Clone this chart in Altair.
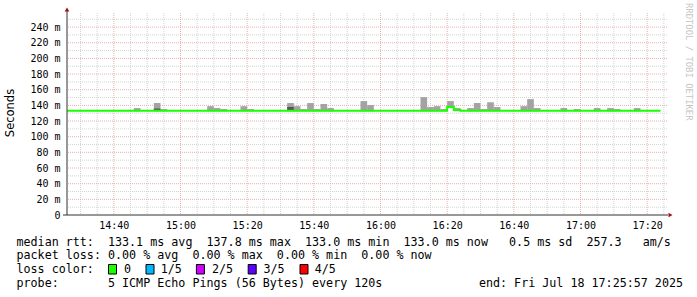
import altair as alt
import pandas as pd

# ---------------- data ----------------
# smoke (ping spread) bars: 2-minute RRD steps starting at these times
smoke_start = ["14:46", "14:52", "14:54", "15:08", "15:10", "15:12", "15:18", "15:20",
               "15:32", "15:34", "15:36", "15:38", "15:40", "15:42", "15:44", "15:54", "15:56",
               "16:12", "16:14", "16:16", "16:18", "16:20", "16:22", "16:26", "16:28", "16:30",
               "16:32", "16:34", "16:42", "16:44", "16:46", "16:54", "16:58", "17:04", "17:08",
               "17:10", "17:16"]
smoke_high_ms = [136.6, 143.0, 135.3, 139.0, 136.6, 135.3, 139.0, 135.3,
                 143.0, 139.0, 135.3, 143.0, 135.3, 141.7, 136.6, 145.5, 140.4,
                 150.6, 137.9, 139.0, 135.3, 145.5, 136.6, 136.6, 143.0, 135.3,
                 144.0, 137.9, 139.0, 148.0, 136.6, 136.6, 135.3, 136.6, 136.6,
                 135.3, 136.6]
smoke_low_ms = [132.5] * 21 + [136.5] + [132.5] * 15

# darker (inner) smoke
dark_start = ["14:52", "15:32"]
dark_low_ms = [132.8, 132.8]
dark_high_ms = [136.0, 138.0]

# median rtt (step line, loss 0)
median_time = ["14:26", "16:20", "16:22", "16:24", "17:24"]
median_ms = [133.0, 137.9, 134.0, 133.0, 133.0]

x_tick_min = [40, 60, 80, 100, 120, 140, 160, 180, 200]   # minutes after 14:00
y_ticks = [0, 20, 40, 60, 80, 100, 120, 140, 160, 180, 200, 220, 240]

legend_line1 = "median rtt:  133.1 ms avg  137.8 ms max  133.0 ms min  133.0 ms now   0.5 ms sd  257.3   am/s"
legend_line2 = "packet loss: 0.00 % avg  0.00 % max  0.00 % min  0.00 % now"
legend_line3 = "loss color:"
legend_line4 = "probe:       5 ICMP Echo Pings (56 Bytes) every 120s"
legend_end = "end: Fri Jul 18 17:25:57 2025"
loss_labels = ["0", "1/5", "2/5", "3/5", "4/5"]
loss_colors = ["#1aff00", "#00b8ff", "#d000ff", "#5a00ff", "#ff0000"]
side_text = "RRDTOOL / TOBI OETIKER"


def tmin(s):
    h, m = s.split(":")
    return (int(h) - 14) * 60 + int(m)


smoke = pd.DataFrame({"start": [tmin(t) for t in smoke_start],
                      "low": smoke_low_ms, "high": smoke_high_ms})
smoke["end"] = smoke["start"] + 2
dark = pd.DataFrame({"start": [tmin(t) for t in dark_start],
                     "low": dark_low_ms, "high": dark_high_ms})
dark["end"] = dark["start"] + 2
median = pd.DataFrame({"t": [tmin(t) for t in median_time], "ms": median_ms})

W, H = 600, 202
MONO = "DejaVu Sans Mono"

xs = alt.Scale(domain=[25.95, 205.95], nice=False, zero=False)
ys = alt.Scale(domain=[0, 258], nice=False, zero=False)

xaxis = alt.Axis(values=x_tick_min, title=None, grid=False, domain=False, ticks=False,
                 labelExpr="(floor(datum.value/60)+14) + ':' + (datum.value%60 == 0 ? '00' : '' + datum.value%60)",
                 labelFont=MONO, labelFontSize=10, labelColor="#000000", labelPadding=5,
                 labelFlush=False)
yaxis = alt.Axis(values=y_ticks, title=None, grid=False, domain=False, ticks=False,
                 labelExpr="datum.value == 0 ? '0' : datum.value + ' m'",
                 labelFont=MONO, labelFontSize=10, labelColor="#000000", labelPadding=7)

X = lambda f: alt.X(f, type="quantitative", scale=xs, axis=xaxis)
Y = lambda f: alt.Y(f, type="quantitative", scale=ys, axis=yaxis)

# grid
vminor = pd.DataFrame({"v": [m for m in range(30, 206, 5) if m % 20 != 0]})
vmajor = pd.DataFrame({"v": x_tick_min})
hminor = pd.DataFrame({"v": list(range(10, 251, 20))})
hmajor = pd.DataFrame({"v": y_ticks[1:]})

MINOR = "#d4d4d4"
MAJOR = "#e8b0b0"
g1 = alt.Chart(vminor).mark_rule(color=MINOR, strokeDash=[1, 1], strokeWidth=1).encode(x=X("v"))
g2 = alt.Chart(hminor).mark_rule(color=MINOR, strokeDash=[1, 1], strokeWidth=1).encode(y=Y("v"))
g3 = alt.Chart(vmajor).mark_rule(color=MAJOR, strokeDash=[1, 1], strokeWidth=1).encode(x=X("v"))
g4 = alt.Chart(hmajor).mark_rule(color=MAJOR, strokeDash=[1, 1], strokeWidth=1).encode(y=Y("v"))

bars = alt.Chart(smoke).mark_rect(color="#a3a3a3").encode(
    x=X("start"), x2="end", y=Y("low"), y2="high")
dbars = alt.Chart(dark).mark_rect(color="#555555").encode(
    x=X("start"), x2="end", y=Y("low"), y2="high")
line = alt.Chart(median).mark_line(interpolate="step-after", color="#1aff00", strokeWidth=2).encode(
    x=X("t"), y=Y("ms"))

one = pd.DataFrame({"a": [0]})
yline = alt.Chart(one).mark_rule(color="#333333", strokeWidth=1).encode(
    x=alt.value(0), y=alt.value(-3), y2=alt.value(H))
xline = alt.Chart(one).mark_rule(color="#333333", strokeWidth=1).encode(
    x=alt.value(-4), x2=alt.value(W + 1), y=alt.value(H))
yarrow = alt.Chart(one).mark_point(shape="triangle-up", filled=True, size=22, color="#a01010", opacity=1).encode(
    x=alt.value(0), y=alt.value(-3.5))
xarrow = alt.Chart(one).mark_point(shape="triangle-right", filled=True, size=22, color="#a01010", opacity=1).encode(
    x=alt.value(W + 3.5), y=alt.value(H))


def txt(s, x, y, size=11.7, font=MONO, align="left", angle=0, color="#000000"):
    s = s.replace(" ", "\u00a0")  # keep runs of spaces (SVG collapses them)
    return alt.Chart(one).mark_text(text=s, font=font, fontSize=size, align=align,
                                    baseline="middle", angle=angle, color=color).encode(
        x=alt.value(x), y=alt.value(y))


OX, OY = 67, 13  # plot origin in page pixels
texts = [
    txt("Seconds", 11 - OX, 113 - OY, size=11.5, font="DejaVu Sans", align="center", angle=270),
    txt(legend_line1, 16.5 - OX, 241.5 - OY),
    txt(legend_line2, 16.5 - OX, 255.3 - OY),
    txt(legend_line3, 16.5 - OX, 269.3 - OY),
    txt(legend_line4, 16.5 - OX, 283.3 - OY),
    txt(legend_end, 683 - OX, 283.3 - OY, align="right"),
    txt(side_text, 689 - OX, 3 - OY, size=8.9, align="left", angle=90, color="#c4c4c4"),
]
box_x = [108.5, 146, 196.4, 248.2, 300]
lab_x = [124, 160.7, 212, 263.4, 314.7]
for bx, lx, lab, col in zip(box_x, lab_x, loss_labels, loss_colors):
    texts.append(alt.Chart(one).mark_rect(color=col, stroke="#000000", strokeWidth=1).encode(
        x=alt.value(bx - OX), x2=alt.value(bx - OX + 8), y=alt.value(264.5 - OY), y2=alt.value(274 - OY)))
    texts.append(txt(lab, lx - OX, 269.3 - OY))

chart = alt.layer(g1, g2, g3, g4, bars, dbars, line, yline, xline, yarrow, xarrow, *texts).properties(
    width=W, height=H,
    padding={"left": OX, "top": OY, "right": 697 - OX - W, "bottom": 297 - OY - H},
    autosize=alt.AutoSizeParams(type="none"),
    background="#ffffff",
).configure_view(stroke=None)

chart.save("out.html", embed_options={"renderer": "svg", "actions": False})
